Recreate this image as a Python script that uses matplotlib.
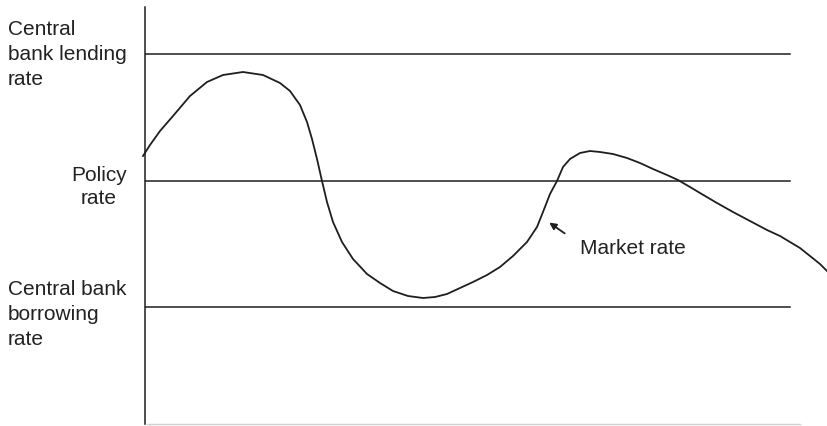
import matplotlib.pyplot as plt

plt.rcParams['font.family'] = ['Liberation Sans', 'DejaVu Sans']

# levels of the three rates (y grows downwards)
lending_rate = 55
policy_rate = 182
borrowing_rate = 308

# market rate path
market_x = [143, 150, 160, 173, 190, 207, 223, 243, 263, 280, 290, 300, 307,
            312, 317, 322, 327, 333, 342, 353, 367, 380, 393, 408, 423, 435,
            447, 460, 473, 487, 500, 513, 527, 537, 543, 550, 557, 563, 570,
            580, 590, 600, 613, 627, 640, 653, 667, 678, 690, 700, 717, 733,
            750, 767, 780, 790, 800, 810, 820, 828]
market_y = [157, 146, 132, 117, 97, 83, 76, 73, 76, 84, 92, 106, 123,
            140, 160, 182, 203, 223, 243, 260, 275, 284, 292, 297, 299, 298,
            295, 289, 283, 276, 268, 257, 243, 228, 213, 195, 182, 168, 160,
            154, 152, 153, 155, 159, 164, 170, 176, 181, 188, 194, 204, 213,
            222, 231, 237, 243, 249, 257, 265, 273]

line_color = '#1e1e1e'
text_color = '#222222'

fig = plt.figure(figsize=(8.28, 4.27), dpi=100)
ax = fig.add_axes([145 / 828, 2 / 427, (828 - 145) / 828, (425 - 8) / 427])
ax.set_xlim(145, 828)
ax.set_ylim(425, 8)

for level in [lending_rate, policy_rate, borrowing_rate]:
    ax.plot([145, 790], [level, level], color=line_color, lw=1.1)

ax.plot(market_x, market_y, color=line_color, lw=1.3, clip_on=False,
        solid_joinstyle='round')

ax.annotate('', xy=(547, 222), xytext=(567, 236),
            arrowprops=dict(arrowstyle='-|>', color=line_color, lw=1.3,
                            mutation_scale=10))
ax.text(580, 249, 'Market rate', fontsize=15, va='center', ha='left', color=text_color)

for s in ['top', 'right']:
    ax.spines[s].set_visible(False)
ax.spines['left'].set_color(line_color)
ax.spines['left'].set_linewidth(1.1)
ax.spines['bottom'].set_color('#d0d0d0')
ax.spines['bottom'].set_linewidth(1.0)
ax.spines['bottom'].set_bounds(147, 800)
ax.set_xticks([])
ax.set_yticks([])

fig.text(8 / 828, 1 - 20 / 427, 'Central\nbank lending\nrate', fontsize=15,
         va='top', ha='left', linespacing=1.39, color=text_color)
fig.text(99 / 828, 1 - 166 / 427, 'Policy\nrate', fontsize=15,
         va='top', ha='center', multialignment='center', linespacing=1.28, color=text_color)
fig.text(8 / 828, 1 - 280 / 427, 'Central bank\nborrowing\nrate', fontsize=15,
         va='top', ha='left', linespacing=1.39, color=text_color)

fig.savefig('out.png', dpi=100)
